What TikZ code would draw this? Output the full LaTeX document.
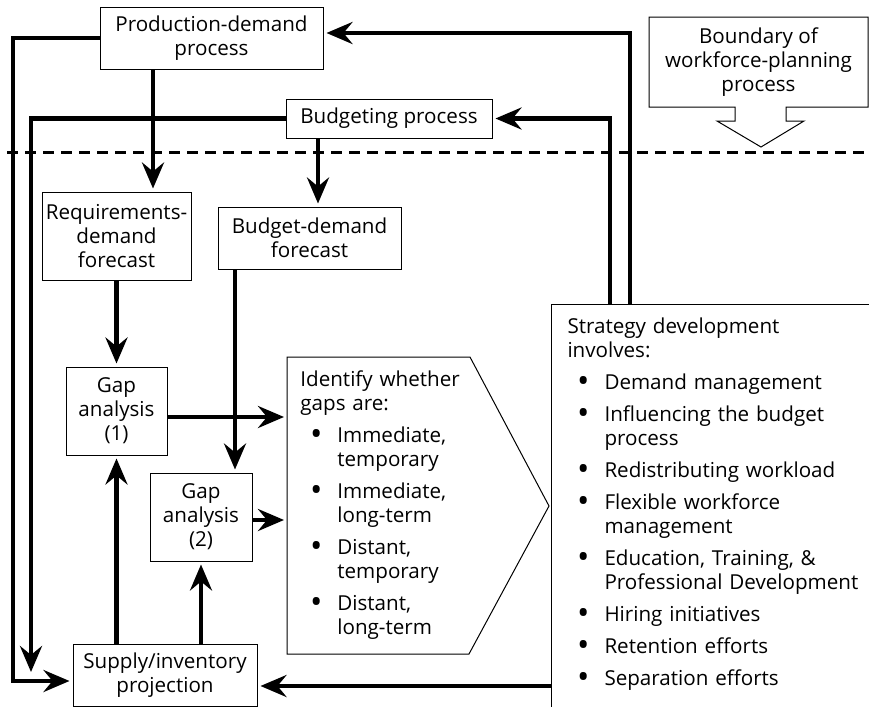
\documentclass[tikz,border=0pt]{standalone}
\usepackage{fontspec}
\setmainfont{Open Sans}
\usetikzlibrary{arrows.meta}

\newcommand{\wfpfont}{\fontsize{10.3}{12}\selectfont}
\newcommand{\wfpbullet}{\raisebox{-1.5pt}{\scalebox{1.6}{\textbullet}}}
\newenvironment{dotlist}{%
  \begin{list}{\wfpbullet}{%
    \setlength{\leftmargin}{18.5pt}%
    \setlength{\labelsep}{7.5pt}%
    \setlength{\labelwidth}{10pt}%
    \setlength{\itemsep}{4pt}%
    \setlength{\parsep}{0pt}%
    \setlength{\topsep}{4pt}%
    \setlength{\partopsep}{0pt}}}%
  {\end{list}}

\begin{document}
\begin{tikzpicture}[x=0.5pt, y=-0.5pt,
    box/.style={draw, line width=0.5pt, align=center, inner sep=0pt, font=\wfpfont},
    flow/.style={line width=2.3pt, -{Stealth[length=13pt, width=11pt, inset=4.5pt]}, shorten >=1.5pt},
    outline/.style={line width=0.5pt}]
            \path[use as bounding box, clip] (0,0) rectangle (869,707);

            % Boundary of the planning process
            \draw[line width=1.5pt, dash pattern=on 5.5pt off 3.5pt] (7,152) -- (869,152);
            \draw[outline] (649,17) -- (868,17) -- (868,107) -- (786,107) -- (786,121) -- (804,121)
                -- (761,147) -- (717,121) -- (735,121) -- (735,107) -- (649,107) -- cycle;
            \node[font=\wfpfont, align=center] (bound) at (758.5,62) {Boundary of\\workforce-planning\\process};

            % Process boxes
            \node[box, minimum width=111.5pt, minimum height=31pt] (prod) at (211.5,38) {Production-demand\\process};
            \node[box, minimum width=103pt, minimum height=19.5pt] (budg) at (389,118.5) {Budgeting process};
            \node[box, minimum width=74.5pt, minimum height=44pt] (req) at (116.5,236) {Requirements-\\demand\\forecast};
            \node[box, minimum width=91.5pt, minimum height=31pt] (bdf) at (309.5,238) {Budget-demand\\forecast};
            \node[box, minimum width=50.5pt, minimum height=44pt] (gap1) at (116.5,411) {Gap\\analysis\\(1)};
            \node[box, minimum width=51pt, minimum height=44pt] (gap2) at (201,517) {Gap\\analysis\\(2)};
            \node[box, minimum width=92pt, minimum height=31pt] (supply) at (165,675) {Supply/inventory\\projection};

            % Gap types
            \draw[outline] (287,357) coordinate (idnw) -- (470,357) -- (549,506) -- (469,654) -- (287,654) -- cycle;
            \node[font=\wfpfont, text width=100pt, align=left, inner sep=0pt, anchor=north west] (ident) at (300,370)
                {Identify whether\\gaps are:
                 \begin{dotlist}
                 \item Immediate,\\temporary
                 \item Immediate,\\long-term
                 \item Distant,\\temporary
                 \item Distant,\\long-term
                 \end{dotlist}};

            % Strategy development
            \node[box, align=left, text width=150pt, inner xsep=8pt, inner ysep=6.5pt, anchor=north west] (strat) at (551,304)
                {Strategy development\\involves:
                 \begin{dotlist}
                 \item Demand management
                 \item Influencing the budget\\process
                 \item Redistributing workload
                 \item Flexible workforce\\management
                 \item Education, Training, \&\\Professional Development
                 \item Hiring initiatives
                 \item Retention efforts
                 \item Separation efforts\rule[-6.5pt]{0pt}{6.5pt}
                 \end{dotlist}};

            % Free ends of the left feedback lines
            \coordinate (lft) at (13,681);
            \coordinate (dn) at (31,675);

            % Connectors
            \draw[flow] ([xshift=39.5pt]strat.north west) |- ([yshift=2.5pt]prod.east);
            \draw[flow] ([xshift=29.5pt]strat.north west) |- (budg.east);
            \draw[flow] (prod.west) -| (lft) -- (lft -| supply.west);
            \draw[flow] (budg.west) -| (dn);
            \draw[flow] ([xshift=-29.25pt]prod.south) -- ([xshift=-29.25pt]prod.south |- req.north);
            \draw[flow] ([xshift=-35.5pt]budg.south) -- ([xshift=-35.5pt]budg.south |- bdf.north);
            \draw[flow] (req.south) -- (gap1.north);
            \draw[flow] ([xshift=-37.25pt]bdf.south) -- ([xshift=-37.25pt]bdf.south |- gap2.north);
            \draw[flow] ([yshift=-3pt]gap1.east) -- ([yshift=-3pt]gap1.east -| idnw);
            \draw[flow] ([yshift=-1.5pt]gap2.east) -- ([yshift=-1.5pt]gap2.east -| idnw);
            \draw[flow] (gap1.south |- supply.north) -- (gap1.south);
            \draw[flow] (gap2.south |- supply.north) -- (gap2.south);
            \draw[flow] ([yshift=-5.5pt]supply.east -| strat.west) -- ([yshift=-5.5pt]supply.east);
        \end{tikzpicture}
\end{document}
